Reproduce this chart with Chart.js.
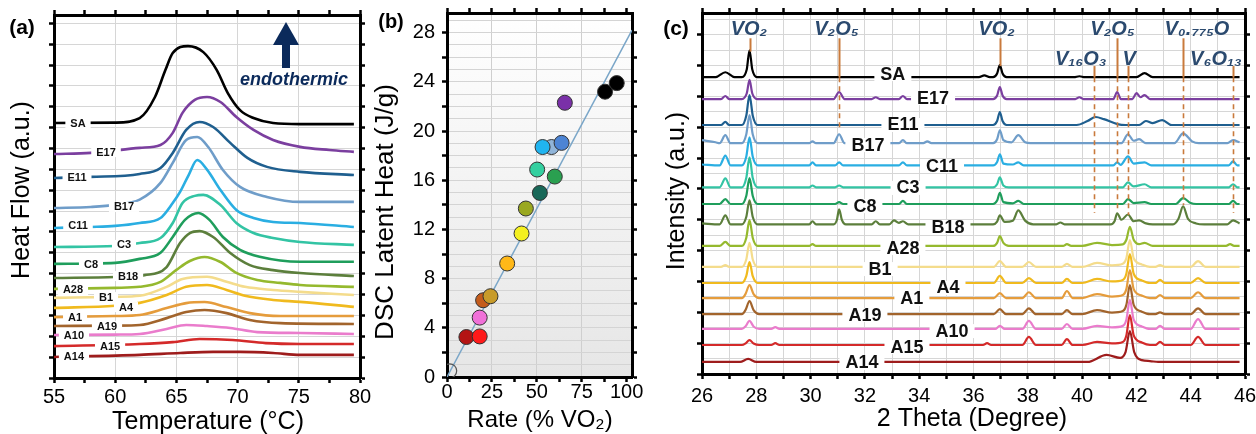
<!DOCTYPE html>
<html>
<head>
<meta charset="utf-8">
<title>DSC and XRD of VO2 samples</title>
<script src="https://cdn.jsdelivr.net/npm/chart.js@4.4.1/dist/chart.umd.min.js"></script>
<style>
  html, body { margin:0; padding:0; background:#fff; width:1256px; height:434px; overflow:hidden; position:relative; }
  canvas { position:absolute; top:0; }
</style>
</head>
<body>
<canvas id="chartA" width="380" height="434" style="left:0px;width:380px;height:434px"></canvas>
<canvas id="chartB" width="280" height="434" style="left:370px;width:280px;height:434px"></canvas>
<canvas id="chartC" width="625" height="434" style="left:650px;width:625px;height:434px"></canvas>
<script>
// ---------------- DATA ----------------
const tempTicks = [55, 60, 65, 70, 75, 80];
const rateTicks = [0, 25, 50, 75, 100];
const heatTicks = [0, 4, 8, 12, 16, 20, 24, 28];
const thetaTicks = [26, 28, 30, 32, 34, 36, 38, 40, 42, 44, 46];

const samples = ['SA','E17','E11','B17','C11','C3','C8','B18','A28','B1','A4','A1','A19','A10','A15','A14'];

// (a) DSC: baseline offset of each trace and heat flow above it, [T (°C), a.u.]
const dscOffsets = [12.22, 10.74, 9.59, 8.15, 7.19, 6.28, 5.47, 4.79, 4.27, 3.84, 3.36, 2.92, 2.49, 2.06, 1.53, 1.01];
const dscSA  = [[55,0],[60,0.02],[62,0.24],[63.25,1.25],[64.1,2.54],[64.7,3.36],[65.95,3.69],[67.2,3.40],[68.3,2.54],[69.2,1.44],[70.2,0.62],[71.3,0.24],[72.9,0],[75.1,-0.05],[79.5,-0.05]];
const dscE17 = [[55,0],[58,0.05],[62,0.29],[63.7,0.43],[64.7,1.01],[65.5,1.97],[66.5,2.59],[67.5,2.73],[68.6,2.49],[69.9,1.77],[71.3,1.15],[72.9,0.67],[75.1,0.34],[77.5,0.19],[79.5,0.10]];
const dscE11 = [[55,0],[58,0.05],[62,0.19],[63.7,0.48],[64.7,1.20],[65.8,2.30],[66.9,2.68],[68.0,2.44],[69.4,1.68],[70.8,0.96],[72.4,0.53],[75.1,0.29],[79.5,0.14]];
const dscB17 = [[55,0],[58,0.05],[60,0.15],[62,0.40],[63.7,1.20],[64.7,2.16],[65.8,3.26],[66.7,3.40],[67.6,2.92],[68.8,1.82],[70.2,1.01],[72.4,0.53],[75.1,0.29],[79.5,0.29]];
const dscC11 = [[55,0],[58,0.05],[60,0.10],[62,0.24],[63.7,0.48],[64.7,1.20],[65.3,1.73],[66.0,2.54],[66.7,3.26],[67.5,2.80],[68.6,1.82],[69.9,0.86],[71.3,0.48],[72.9,0.29],[75.1,0.24],[79.5,0.05]];
const dscC3  = [[55,0],[60,0.05],[62,0.19],[63.7,0.43],[64.7,1.15],[65.5,2.11],[66.5,2.45],[67.2,2.50],[68.6,2.01],[69.9,1.15],[71.3,0.67],[72.9,0.43],[75.1,0.24],[79.5,0.10]];
const dscC8  = [[55,0],[60,0.05],[62,0.24],[63.7,0.53],[64.7,1.29],[65.7,2.11],[66.8,2.44],[67.7,2.11],[68.8,1.29],[70.2,0.67],[71.8,0.34],[75.1,0.10],[79.5,0.10]];
const dscB18 = [[55,0],[60,0.05],[62.4,0.14],[64.2,0.53],[65.3,1.68],[66.1,2.16],[66.9,2.25],[68.0,1.97],[69.4,1.20],[71.0,0.62],[72.9,0.38],[75.1,0.24],[79.5,0.10]];
const dscA28 = [[55,0],[60,0.05],[62,0.10],[63.7,0.34],[65.0,0.91],[66.1,1.34],[67.3,1.53],[68.6,1.29],[69.9,0.77],[71.6,0.43],[73.5,0.29],[75.1,0.19],[79.5,0.10]];
const dscB1  = [[55,0],[60,0.05],[62,0.10],[64.2,0.53],[65.5,0.91],[67.5,1.01],[69.1,0.77],[70.6,0.53],[72.9,0.38],[75.1,0.29],[79.5,0.14]];
const dscA4  = [[55,0],[60,0.10],[62,0.24],[64.2,0.62],[65.8,1.01],[67.5,1.10],[69.1,0.86],[70.6,0.58],[72.9,0.38],[75.1,0.29],[79.5,0.05]];
const dscA1  = [[55,0],[60,0.05],[62,0.10],[64.2,0.43],[65.8,0.67],[67.3,0.72],[69.1,0.48],[71.0,0.19],[73.5,0.05],[79.5,0.05]];
const dscA19 = [[55,0],[60,0.02],[62,0.05],[64.2,0.38],[65.8,0.67],[67.3,0.77],[69.1,0.62],[71.0,0.29],[73.5,0.14],[79.5,0.10]];
const dscA10 = [[55,0],[60,0.02],[62,0.05],[64.2,0.29],[65.8,0.48],[67.5,0.43],[69.4,0.34],[71.6,0.14],[75.1,0.10],[79.5,0.05]];
const dscA15 = [[55,0],[62,0.10],[64.7,0.19],[66.9,0.34],[69.6,0.29],[72.3,0.14],[75.1,0.10],[79.5,0.10]];
const dscA14 = [[55,0],[62,0.10],[65.3,0.19],[68,0.24],[70.2,0.24],[72.9,0.19],[75.1,0.10],[79.5,0.10]];
const dscSeries = [dscSA, dscE17, dscE11, dscB17, dscC11, dscC3, dscC8, dscB18, dscA28, dscB1, dscA4, dscA1, dscA19, dscA10, dscA15, dscA14];

// (b) latent heat vs VO2 rate
const rateValues = [10.8, 18.2, 18.2, 20.1, 24.2, 33.5, 41.5, 43.9, 51.7, 60.0, 50.2, 58.2, 53.2, 63.8, 65.6, 88.0, 94.5];
const heatValues = [3.25, 3.30, 4.83, 6.24, 6.57, 9.23, 11.67, 13.70, 14.97, 16.30, 16.87, 18.70, 18.70, 19.04, 22.30, 23.20, 23.90];
const originRate = [1.5];
const originHeat = [0.5];
const fitRate = [0, 103];
const fitHeat = [0, 28.2];

// (c) XRD: baseline offset of each pattern and intensity above it, [2θ (deg), a.u.]
const xrdOffsets = [96.2, 89.1, 80.7, 74.8, 67.6, 60.5, 55.1, 48.5, 41.5, 34.7, 29.5, 24.6, 19.4, 14.6, 9.4, 3.9];
const xrdSA  = [[26,0],[26.5,0],[26.86,1.6],[27.2,0],[27.47,0],[27.65,2.6],[27.75,8.7],[27.85,2.6],[28.03,0],[36.2,0],[36.4,0.6],[36.6,0],[36.72,0],[36.87,1.2],[36.97,3.9],[37.07,1.2],[37.22,0],[39.7,0],[39.9,0.3],[40.1,0],[42.0,0],[42.3,1.3],[42.6,0],[45.8,0]];
const xrdE17 = [[26,0],[26.7,0],[26.86,1.0],[27.0,0],[27.47,0],[27.65,1.9],[27.75,6.2],[27.85,1.9],[28.03,0],[30.85,0],[31.05,2.3],[31.25,0],[32.25,0],[32.4,0.6],[32.55,0],[33.25,0],[33.4,1.0],[33.55,0],[36.72,0],[36.87,1.2],[36.97,3.9],[37.07,1.2],[37.22,0],[39.75,0],[39.9,0.6],[40.05,0],[41.15,0],[41.29,2.3],[41.43,0],[41.85,0],[42.0,1.9],[42.15,0.6],[42.3,1.3],[42.5,0],[45.8,0]];
const xrdE11 = [[26,0],[26.7,0],[26.86,1.0],[27.0,0],[27.47,0],[27.63,3.0],[27.75,9.7],[27.87,3.0],[28.05,0],[36.72,0],[36.87,1.3],[36.97,4.2],[37.07,1.3],[37.22,0],[39.8,0],[40.2,1.3],[40.5,2.6],[40.8,1.9],[41.3,0.3],[41.6,0],[42.1,0],[42.35,1.3],[42.6,0.6],[42.95,1.6],[43.3,0],[45.8,0]];
const xrdB17 = [[26,1.0],[26.5,0.3],[26.65,0],[26.86,2.6],[27.05,0],[27.47,0],[27.63,2.8],[27.75,9.1],[27.87,2.8],[28.05,0],[29.95,0],[30.07,0.6],[30.2,0],[30.85,0],[31.05,2.9],[31.25,0],[33.25,0],[33.4,1.0],[33.55,0],[34.15,0],[34.3,0.6],[34.45,0],[36.72,0],[36.87,1.3],[36.97,4.2],[37.1,1.0],[37.4,0.3],[37.65,2.6],[37.9,0.3],[38.1,0],[41.45,0],[41.69,2.9],[41.9,0.8],[42.1,1.3],[42.35,0],[43.4,0],[43.72,3.2],[44.05,0.6],[44.3,0],[45.35,0],[45.56,1.0],[45.8,0.3]];
const xrdC11 = [[26,0.3],[26.65,0],[26.86,3.2],[27.05,0],[27.47,0],[27.63,2.8],[27.75,9.1],[27.87,2.8],[28.05,0],[29.95,0],[30.07,1.0],[30.2,0],[30.9,0],[31.05,1.0],[31.2,0],[33.25,0],[33.4,1.0],[33.55,0],[36.72,0],[36.87,1.1],[36.97,3.6],[37.1,0.6],[37.45,0.3],[37.65,1.0],[37.85,0],[41.15,0],[41.29,1.0],[41.42,0.2],[41.69,2.9],[41.9,0.6],[42.3,1.0],[42.55,0],[45.4,0],[45.56,1.3],[45.72,0],[45.8,0]];
const xrdC3  = [[26,0],[26.65,0],[26.86,2.9],[27.05,0],[27.47,0],[27.63,3.0],[27.75,9.7],[27.87,3.0],[28.05,0],[29.95,0],[30.07,0.6],[30.2,0],[30.9,0],[31.05,0.6],[31.2,0],[36.72,0],[36.87,1.0],[36.97,3.2],[37.1,0.6],[37.3,0],[41.5,0],[41.69,1.6],[41.9,0.3],[42.3,1.0],[42.55,0],[45.4,0],[45.56,1.0],[45.72,0],[45.8,0]];
const xrdC8  = [[26,0],[26.65,0],[26.86,1.6],[27.05,0],[27.47,0],[27.63,2.6],[27.75,8.4],[27.87,2.6],[28.05,0],[30.9,0],[31.05,0.6],[31.2,0],[33.25,0],[33.4,1.0],[33.55,0],[36.72,0],[36.87,1.1],[36.97,3.6],[37.1,0.6],[37.45,0.2],[37.65,1.0],[37.85,0],[41.5,0],[41.69,1.6],[41.9,0.3],[42.3,0.6],[42.55,0],[43.45,0],[43.72,1.9],[44.0,0.3],[44.2,0],[45.4,0],[45.56,1.0],[45.72,0],[45.8,0]];
const xrdB18 = [[26,0.3],[26.65,0],[26.86,2.9],[27.05,0],[27.47,0],[27.63,2.4],[27.75,7.8],[27.87,2.4],[28.05,0],[29.95,0],[30.07,1.0],[30.2,0],[30.85,0],[30.97,1.5],[31.05,4.9],[31.15,1.5],[31.3,0],[32.25,0],[32.4,1.0],[32.55,0],[32.9,0],[33.07,1.3],[33.25,0.5],[33.4,1.0],[33.6,0],[34.3,0],[34.45,0.6],[34.6,0],[36.72,0],[36.87,0.9],[36.97,2.9],[37.15,0.8],[37.45,1.2],[37.65,4.5],[37.9,1.2],[38.2,0],[39.05,0],[39.2,0.6],[39.35,0],[41.05,0],[41.2,1.1],[41.29,3.6],[41.45,1.5],[41.69,3.2],[41.9,1.0],[42.1,1.3],[42.35,0.3],[42.6,0],[43.35,0],[43.55,1.8],[43.72,5.8],[43.9,1.8],[44.2,0.3],[44.5,0],[45.35,0],[45.56,1.3],[45.8,0.3]];
const xrdA28 = [[26,0],[26.65,0],[26.86,1.3],[27.05,0],[27.47,0],[27.63,2.6],[27.75,8.4],[27.87,2.6],[28.05,0],[29.95,0],[30.07,0.6],[30.2,0],[36.72,0],[36.87,1.0],[36.97,3.2],[37.1,1.0],[37.3,0],[39.3,0],[39.44,0.6],[39.6,0],[40.0,0],[40.55,1.0],[41.1,0.3],[41.5,0.5],[41.63,2.0],[41.76,6.2],[41.9,2.0],[42.1,0.6],[42.3,1.0],[42.6,0],[45.3,0],[45.45,0.6],[45.6,0],[45.8,0]];
const xrdB1  = [[26,0],[26.7,0],[26.86,0.6],[27.0,0],[27.47,0],[27.63,2.4],[27.75,7.8],[27.87,2.4],[28.05,0],[36.75,0],[36.97,1.9],[37.2,0],[37.8,0],[38.04,1.6],[38.3,0],[39.25,0],[39.44,1.0],[39.65,0],[40.0,0],[40.55,1.3],[41.1,0.5],[41.5,1.0],[41.63,2.8],[41.76,8.7],[41.9,2.8],[42.2,0.8],[42.5,0],[42.7,0],[42.87,0.6],[43.05,0],[44.0,0],[44.27,1.9],[44.55,0],[45.8,0]];
const xrdA4  = [[26,0],[27.47,0],[27.63,2.2],[27.75,6.8],[27.87,2.2],[28.05,0],[36.75,0],[36.97,2.3],[37.2,0],[37.8,0],[38.04,1.6],[38.3,0],[39.25,0],[39.44,1.3],[39.65,0],[40.0,0],[40.55,1.3],[41.1,0.5],[41.5,1.0],[41.63,3.0],[41.76,9.4],[41.9,3.0],[42.2,0.8],[42.5,0],[42.7,0],[42.87,1.0],[43.05,0],[44.0,0],[44.27,1.6],[44.55,0],[45.8,0]];
const xrdA1  = [[26,0],[27.47,0],[27.6,1.3],[27.75,4.2],[27.9,1.3],[28.1,0],[36.75,0],[36.97,1.6],[37.2,0],[37.8,0],[38.04,1.9],[38.3,0],[39.25,0],[39.44,2.3],[39.65,0],[40.0,0],[40.55,1.3],[41.1,0.5],[41.5,1.0],[41.63,2.9],[41.76,9.1],[41.9,2.9],[42.2,0.8],[42.5,0],[42.7,0],[42.87,1.0],[43.05,0],[44.0,0],[44.27,1.9],[44.55,0],[45.8,0]];
const xrdA19 = [[26,0],[27.47,0],[27.6,1.3],[27.75,4.2],[27.9,1.3],[28.1,0],[36.75,0],[36.97,1.6],[37.2,0],[37.8,0],[38.04,1.9],[38.3,0],[39.25,0],[39.44,1.3],[39.65,0],[40.0,0],[40.55,1.3],[41.1,0.5],[41.5,1.0],[41.63,3.0],[41.76,9.4],[41.9,3.0],[42.2,0.8],[42.5,0],[42.7,0],[42.87,0.6],[43.05,0],[44.0,0],[44.27,1.9],[44.55,0],[45.8,0]];
const xrdA10 = [[26,0],[27.47,0],[27.6,0.8],[27.75,2.6],[27.9,0.8],[28.1,0],[28.55,0],[28.7,0.6],[28.85,0],[36.8,0],[36.97,1.0],[37.15,0],[37.8,0],[38.04,2.6],[38.3,0],[39.25,0],[39.44,1.6],[39.65,0],[40.0,0],[40.55,1.0],[41.1,0.5],[41.5,1.0],[41.63,3.0],[41.76,9.4],[41.9,3.0],[42.2,0.8],[42.5,0],[42.7,0],[42.87,1.0],[43.05,0],[44.0,0],[44.27,3.2],[44.55,0],[45.8,0]];
const xrdA15 = [[26,0],[27.47,0],[27.6,0.5],[27.75,1.6],[27.9,0.5],[28.1,0],[28.55,0],[28.7,0.6],[28.85,0],[36.35,0],[36.5,0.6],[36.65,0],[37.8,0],[38.04,2.6],[38.3,0],[39.25,0],[39.44,1.9],[39.65,0],[40.0,0],[40.55,1.0],[41.1,0.5],[41.5,1.0],[41.63,3.1],[41.76,9.7],[41.9,3.1],[42.2,0.8],[42.5,0],[42.7,0],[42.87,1.0],[43.05,0],[44.0,0],[44.27,2.6],[44.55,0],[45.8,0]];
const xrdA14 = [[26,0],[27.4,0],[27.7,1.0],[28.0,0],[40.2,0],[40.9,2.3],[41.4,1.3],[41.6,3.2],[41.76,10.0],[41.92,3.2],[42.2,0.6],[42.5,0.3],[42.8,0],[45.8,0]];
const xrdSeries = [xrdSA, xrdE17, xrdE11, xrdB17, xrdC11, xrdC3, xrdC8, xrdB18, xrdA28, xrdB1, xrdA4, xrdA1, xrdA19, xrdA10, xrdA15, xrdA14];

// ---------------- STYLE / ANNOTATION LAYOUT ----------------
const sampleColors = ['#000000','#7b3f9f','#1f5f8f','#6f9dc9','#2aaee2','#33c4a4','#1f9e5c','#5c7f3c','#95b92e','#f4dc8c','#f0ba1e','#e59c3c','#a2642c','#ea7ccc','#d42a2a','#9e1c1c'];
const pointColors = ['#b41414','#ff1a1a','#f070d8','#c45c1c','#c89b2a','#ffb818','#f4f020','#9aa820','#186858','#2aa050','#34d0a0','#90b4d8','#20b4f0','#4c84d4','#7a30a8','#000000','#000000'];
const dscLabelAt = [[56.96,12.22],[59.25,10.83],[56.88,9.59],[60.72,8.20],[56.96,7.33],[60.72,6.38],[58.02,5.42],[61.05,4.89],[56.55,4.22],[59.25,3.88],[60.88,3.40],[56.72,2.92],[59.33,2.49],[56.63,2.06],[59.58,1.53],[56.63,1.01]];
const xrdLabelAt = [[33.03,97.2],[34.51,89.4],[33.40,80.7],[32.11,74.2],[34.84,67.4],[33.59,60.3],[32.00,54.4],[35.06,47.6],[33.40,40.8],[32.56,34.0],[35.06,27.9],[33.73,24.3],[32.00,19.1],[35.21,13.9],[33.55,8.7],[31.89,3.6]];
const phaseMarks = [
  {x:27.75, solid:[108.8,104.5]},
  {x:31.05, solid:[108.8,96.2], dash:[96.2,79.7]},
  {x:36.97, solid:[108.8,99.8]},
  {x:40.44, solid:[99.8,96.2], dash:[96.2,52.2]},
  {x:41.29, solid:[108.8,96.2], dash:[96.2,52.5]},
  {x:41.69, solid:[99.8,96.2], dash:[96.2,51.5]},
  {x:43.72, solid:[108.8,96.2], dash:[96.2,54.7]},
  {x:45.56, solid:[99.8,96.2], dash:[96.2,52.2]}
];
const phaseLabels = [
  ['VO\u2082', 27.73, 109.8], ['V\u2082O\u2085', 30.95, 109.8], ['VO\u2082', 36.85, 109.8], ['V\u2082O\u2085', 41.12, 109.8],
  ['V\u2080.\u2087\u2087\u2085O', 44.23, 109.8], ['V\u2081\u2086O\u2083', 39.95, 100.1], ['V', 41.73, 100.1], ['V\u2086O\u2081\u2083', 44.93, 100.1]
];

const FONT = '"Liberation Sans", Arial, Helvetica, sans-serif';
const CLEAR = 'rgba(0,0,0,0)';
const GRID = '#d6d6d6';
const NAVY = '#0b2a5b';
const PHASE_TEXT = '#2b4a6f';
const PHASE_LINE = '#c97a3c';
Chart.defaults.font.family = FONT;
Chart.defaults.color = '#000';

function hText(ctx, t, x, y, font) {
  ctx.save(); ctx.font = font; ctx.fillStyle = '#000'; ctx.textAlign = 'center'; ctx.textBaseline = 'middle';
  ctx.fillText(t, x, y); ctx.restore();
}
function vText(ctx, t, x, y, font) {
  ctx.save(); ctx.translate(x, y); ctx.rotate(-Math.PI / 2); ctx.font = font; ctx.fillStyle = '#000';
  ctx.textAlign = 'center'; ctx.textBaseline = 'middle'; ctx.fillText(t, 0, 0); ctx.restore();
}
function boxLabel(ctx, t, x, y, padX, h) {
  const w = ctx.measureText(t).width;
  ctx.fillStyle = '#fff';
  ctx.fillRect(x - w / 2 - padX, y - h / 2, w + 2 * padX, h);
  ctx.fillStyle = '#111';
  ctx.fillText(t, x, y + 0.5);
}
function frameScale(min, max, step, pos, size, extra) {
  const s = {
    type: 'linear', position: pos, min: min, max: max,
    ticks: { display: false, stepSize: step, autoSkip: false, includeBounds: false, maxRotation: 0 },
    grid: { drawOnChartArea: false, tickColor: '#000', tickLength: 5, tickWidth: 2.5 },
    border: { display: true, color: '#000', width: 3 },
    afterFit: (pos === 'top' || pos === 'bottom') ? (sc => { sc.height = size; }) : (sc => { sc.width = size; })
  };
  if (extra) Object.assign(s.grid, extra);
  return s;
}
const common = {
  responsive: false, maintainAspectRatio: false, animation: false, devicePixelRatio: 1, events: [],
  layout: { padding: 0 },
  plugins: { legend: { display: false }, tooltip: { enabled: false } }
};

// ---------------- (a) DSC ----------------
const annotA = {
  id: 'annotA',
  afterDatasetsDraw(chart) {
    const { ctx, scales: { x, y } } = chart;
    ctx.save();
    ctx.font = 'bold 11px ' + FONT; ctx.textAlign = 'center'; ctx.textBaseline = 'middle';
    samples.forEach((name, i) => {
      boxLabel(ctx, name, x.getPixelForValue(dscLabelAt[i][0]), y.getPixelForValue(dscLabelAt[i][1]), 5, 10);
    });
    ctx.restore();
  },
  afterDraw(chart) {
    const ctx = chart.ctx;
    vText(ctx, 'Heat Flow (a.u.)', 22, 190, '25px ' + FONT);
    hText(ctx, 'Temperature (\u00B0C)', 208, 422, '25px ' + FONT);
    hText(ctx, '(a)', 22, 28, 'bold 21px ' + FONT);
    ctx.save();
    ctx.fillStyle = NAVY;
    ctx.fillRect(282, 44, 8, 24);
    ctx.beginPath(); ctx.moveTo(273, 45); ctx.lineTo(299, 45); ctx.lineTo(286, 22); ctx.closePath(); ctx.fill();
    ctx.font = 'italic bold 18px ' + FONT; ctx.textAlign = 'center'; ctx.textBaseline = 'middle';
    ctx.fillText('endothermic', 294, 80);
    ctx.restore();
  }
};
new Chart(document.getElementById('chartA'), {
  type: 'line',
  data: { datasets: samples.map((name, i) => ({
    label: name,
    data: dscSeries[i].map(p => ({ x: p[0], y: dscOffsets[i] + p[1] })),
    borderColor: sampleColors[i], borderWidth: 2.6, pointRadius: 0, fill: false,
    cubicInterpolationMode: 'monotone', borderJoinStyle: 'round', order: -i
  })) },
  options: Object.assign({}, common, {
    scales: {
      x: {
        type: 'linear', position: 'bottom', min: 55, max: 80,
        ticks: { stepSize: 2.5, autoSkip: false, includeBounds: false, maxRotation: 0, padding: 4, color: '#000',
                 font: { size: 20, lineHeight: 1 }, callback: v => tempTicks.includes(v) ? String(v) : '' },
        grid: { color: c => (c.tick && tempTicks.includes(c.tick.value) && c.tick.value !== 55 && c.tick.value !== 80) ? GRID : CLEAR,
                tickColor: '#000', tickLength: 5, tickWidth: 2.5 },
        border: { display: true, color: '#000', width: 3 },
        afterFit: s => { s.height = 56; }
      },
      x2: frameScale(55, 80, 2.5, 'top', 15),
      y: {
        type: 'linear', position: 'left', min: 0, max: 17.4,
        ticks: { display: false, stepSize: 1, autoSkip: false, includeBounds: false },
        grid: { color: c => (c.tick && c.tick.value > 0) ? GRID : CLEAR, tickColor: '#000', tickLength: 5, tickWidth: 2.5 },
        border: { display: true, color: '#000', width: 3 },
        afterFit: s => { s.width = 54; }
      },
      y2: frameScale(0, 17.4, 1, 'right', 20)
    }
  }),
  plugins: [annotA]
});

// ---------------- (b) Latent heat ----------------
const annotB = {
  id: 'annotB',
  beforeDraw(chart) {
    const { ctx, chartArea: { left, top, right, bottom } } = chart;
    const g = ctx.createLinearGradient(0, top, 0, bottom);
    g.addColorStop(0, '#ffffff'); g.addColorStop(1, '#e6e6e6');
    ctx.save(); ctx.fillStyle = g; ctx.fillRect(left, top, right - left, bottom - top); ctx.restore();
  },
  afterDraw(chart) {
    const ctx = chart.ctx;
    vText(ctx, 'DSC Latent Heat (J/g)', 16, 212, '26px ' + FONT);
    hText(ctx, 'Rate (% VO\u2082)', 170, 420, '24px ' + FONT);
    hText(ctx, '(b)', 21, 22, 'bold 20px ' + FONT);
  }
};
const evenTick = c => (c.tick && Math.round(c.tick.value) % 2 === 0) ? '#000' : CLEAR;
new Chart(document.getElementById('chartB'), {
  type: 'scatter',
  data: { datasets: [
    { label: 'fit', data: fitRate.map((r, i) => ({ x: r, y: fitHeat[i] })), showLine: true,
      borderColor: '#7aa6c8', borderWidth: 1.5, pointRadius: 0, order: 3 },
    { label: 'reference', data: originRate.map((r, i) => ({ x: r, y: originHeat[i] })),
      backgroundColor: CLEAR, borderColor: '#555', borderWidth: 1.2, pointRadius: 7, order: 2 },
    { label: 'samples', data: rateValues.map((r, i) => ({ x: r, y: heatValues[i] })),
      backgroundColor: pointColors, borderColor: '#333', borderWidth: 1, pointRadius: 7.5, order: 1 }
  ] },
  options: Object.assign({}, common, {
    scales: {
      x: {
        type: 'linear', position: 'bottom', min: 0, max: 103,
        ticks: { stepSize: 12.5, autoSkip: false, includeBounds: false, maxRotation: 0, padding: 0, color: '#000',
                 font: { size: 20, lineHeight: 1 }, callback: v => rateTicks.includes(v) ? String(v) : '' },
        grid: { color: c => (c.tick && [25, 50, 75].includes(c.tick.value)) ? '#cfcfcf' : CLEAR,
                tickColor: '#000', tickLength: 5, tickWidth: 2.5 },
        border: { display: true, color: '#000', width: 3 },
        afterFit: s => { s.height = 57; }
      },
      x2: frameScale(0, 103, 12.5, 'top', 13),
      y: {
        type: 'linear', position: 'left', min: 0, max: 29.6,
        ticks: { stepSize: 1, autoSkip: false, includeBounds: false, padding: 7, color: '#000',
                 font: { size: 20, lineHeight: 0.6 }, callback: v => heatTicks.includes(v) ? String(v) : '' },
        grid: { color: c => (c.tick && c.tick.value > 0) ? '#d4d4d4' : CLEAR, tickColor: evenTick, tickLength: 5, tickWidth: 2.5 },
        border: { display: true, color: '#000', width: 3 },
        afterFit: s => { s.width = 77; }
      },
      y2: frameScale(0, 29.6, 1, 'right', 18, { tickColor: evenTick })
    }
  }),
  plugins: [annotB]
});

// ---------------- (c) XRD ----------------
const annotC = {
  id: 'annotC',
  afterDatasetsDraw(chart) {
    const { ctx, scales: { x, y } } = chart;
    ctx.save();
    ctx.strokeStyle = PHASE_LINE;
    phaseMarks.forEach(m => {
      const px = Math.round(x.getPixelForValue(m.x)) + 0.5;
      ctx.setLineDash([]); ctx.lineWidth = 2;
      ctx.beginPath(); ctx.moveTo(px, y.getPixelForValue(m.solid[0])); ctx.lineTo(px, y.getPixelForValue(m.solid[1])); ctx.stroke();
      if (m.dash) {
        ctx.setLineDash([5, 4]); ctx.lineWidth = 1.6;
        ctx.beginPath(); ctx.moveTo(px, y.getPixelForValue(m.dash[0])); ctx.lineTo(px, y.getPixelForValue(m.dash[1])); ctx.stroke();
      }
    });
    ctx.setLineDash([]);
    ctx.fillStyle = PHASE_TEXT; ctx.font = 'italic bold 20px ' + FONT; ctx.textAlign = 'center'; ctx.textBaseline = 'alphabetic';
    phaseLabels.forEach(l => ctx.fillText(l[0], x.getPixelForValue(l[1]), y.getPixelForValue(l[2])));
    ctx.font = 'bold 18px ' + FONT; ctx.textBaseline = 'middle';
    samples.forEach((name, i) => {
      boxLabel(ctx, name, x.getPixelForValue(xrdLabelAt[i][0]), y.getPixelForValue(xrdLabelAt[i][1]), 6, 14);
    });
    ctx.restore();
  },
  afterDraw(chart) {
    const ctx = chart.ctx;
    vText(ctx, 'Intensity (a.u.)', 27, 191, '25px ' + FONT);
    hText(ctx, '2 Theta (Degree)', 322, 419, '25px ' + FONT);
    hText(ctx, '(c)', 26, 29, 'bold 21px ' + FONT);
  }
};
const tenTick = c => (c.tick && Math.round(c.tick.value) % 10 === 0) ? '#000' : CLEAR;
new Chart(document.getElementById('chartC'), {
  type: 'line',
  data: { datasets: samples.map((name, i) => ({
    label: name,
    data: xrdSeries[i].map(p => ({ x: p[0], y: xrdOffsets[i] + p[1] })),
    borderColor: sampleColors[i], borderWidth: 2.2, pointRadius: 0, fill: false,
    cubicInterpolationMode: 'monotone', borderJoinStyle: 'round', order: -i
  })) },
  options: Object.assign({}, common, {
    scales: {
      x: {
        type: 'linear', position: 'bottom', min: 26, max: 46,
        ticks: { stepSize: 1, autoSkip: false, includeBounds: false, maxRotation: 0, padding: 7, color: '#000',
                 font: { size: 20, lineHeight: 1 }, callback: v => thetaTicks.includes(v) ? String(v) : '' },
        grid: { color: c => (c.tick && c.tick.value > 26 && c.tick.value < 46) ? GRID : CLEAR,
                tickColor: '#000', tickLength: 5, tickWidth: 2.5 },
        border: { display: true, color: '#000', width: 3 },
        afterFit: s => { s.height = 60; }
      },
      x2: frameScale(26, 46, 1, 'top', 13),
      y: {
        type: 'linear', position: 'left', min: 0, max: 117,
        ticks: { display: false, stepSize: 5, autoSkip: false, includeBounds: false },
        grid: { color: c => (c.tick && c.tick.value > 0) ? GRID : CLEAR, tickColor: tenTick, tickLength: 5, tickWidth: 2.5 },
        border: { display: true, color: '#000', width: 3 },
        afterFit: s => { s.width = 52; }
      },
      y2: frameScale(0, 117, 5, 'right', 30, { tickColor: tenTick })
    }
  }),
  plugins: [annotC]
});
</script>
</body>
</html>
